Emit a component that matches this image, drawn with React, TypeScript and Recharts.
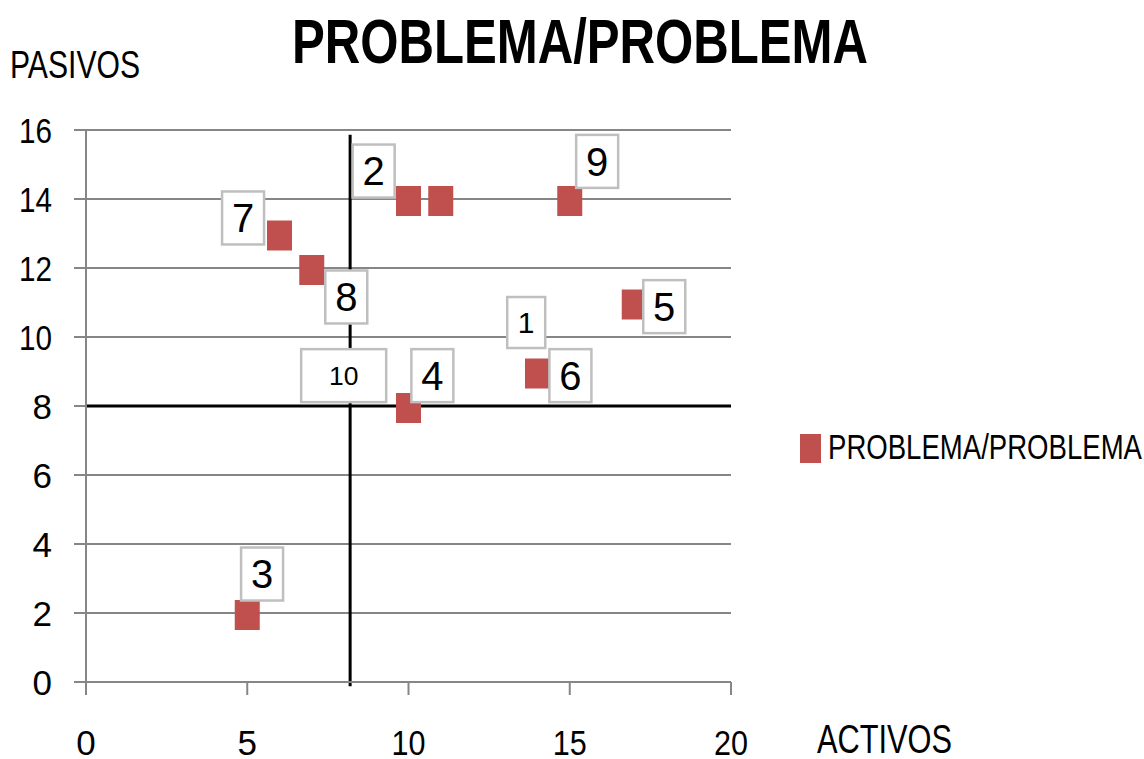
import React from "react";
import {
  ScatterChart,
  Scatter,
  XAxis,
  YAxis,
  CartesianGrid,
  ReferenceLine,
  Legend,
} from "recharts";

// ---- data ----
const pointIds = ["1", "2", "3", "4", "5", "6", "7", "8", "9", "10"];
const activos = [11, 10, 5, 10, 17, 14, 6, 7, 15, 8];
const pasivos = [14, 14, 2, 8, 11, 9, 13, 12, 14, 9];
// data-coordinate centres of the number boxes
const labelX = [13.65, 8.92, 5.46, 10.74, 17.93, 15.02, 4.87, 8.07, 15.85, 7.99];
const labelY = [10.42, 14.81, 3.13, 8.88, 10.88, 8.88, 13.45, 11.16, 15.09, 8.88];
const xTicks = [0, 5, 10, 15, 20];
const yTicks = [0, 2, 4, 6, 8, 10, 12, 14, 16];
const dividerX = 8.19;
const dividerY = 8;
const dividerTop = 15.86;
const dividerBottom = -0.12;

const chartTitle = "PROBLEMA/PROBLEMA";
const seriesName = "PROBLEMA/PROBLEMA";
const yTitle = "PASIVOS";
const xTitle = "ACTIVOS";

const points = pointIds.map((id, i) => ({ id, x: activos[i], y: pasivos[i] }));
const labels = pointIds.map((id, i) => ({ id, x: labelX[i], y: labelY[i] }));

const FONT = "'Liberation Sans', Arial, sans-serif";
const RED = "#C0504D";
const GRID = "#868686";
const SMALL = new Set(["1", "10"]);

const SquareShape = (props: any) => {
  const { cx, cy } = props;
  if (cx == null || cy == null) return null;
  return <rect x={cx - 12.5} y={cy - 13} width={25} height={30} fill={RED} />;
};

const LabelShape = (props: any) => {
  const { cx, cy, payload } = props;
  if (cx == null || cy == null) return null;
  const id: string = payload.id;
  const w = id.length > 1 ? 85 : SMALL.has(id) ? 38 : 42;
  const h = SMALL.has(id) && id.length === 1 ? 51 : 53;
  const fs = id === "10" ? 26.5 : id === "1" ? 30 : 40;
  return (
    <g>
      <rect
        x={cx - w / 2}
        y={cy - h / 2}
        width={w}
        height={h}
        fill="#ffffff"
        stroke="#BFBFBF"
        strokeWidth={2.5}
      />
      <text
        x={cx}
        y={cy + fs * 0.358}
        textAnchor="middle"
        fontFamily={FONT}
        fontSize={fs}
        fill="#000"
      >
        {id}
      </text>
    </g>
  );
};

const YTick = (props: any) => {
  const { x, y, payload } = props;
  const v = String(payload.value);
  return (
    <text
      x={x}
      y={y + 12.5}
      textAnchor="end"
      fontFamily={FONT}
      fontSize={35}
      fill="#000"
      {...(v.length > 1 ? { textLength: 33, lengthAdjust: "spacingAndGlyphs" } : {})}
    >
      {v}
    </text>
  );
};

const XTick = (props: any) => {
  const { x, y, payload } = props;
  const v = String(payload.value);
  return (
    <text
      x={x}
      y={y}
      textAnchor="middle"
      fontFamily={FONT}
      fontSize={35}
      fill="#000"
      {...(v.length > 1 ? { textLength: 34, lengthAdjust: "spacingAndGlyphs" } : {})}
    >
      {v}
    </text>
  );
};

const LegendContent = () => (
  <svg width={344} height={40} style={{ display: "block" }}>
    <rect x={0} y={4} width={21} height={29} fill={RED} />
    <text
      x={28}
      y={29}
      fontFamily={FONT}
      fontSize={35}
      fill="#000"
      textLength={314}
      lengthAdjust="spacingAndGlyphs"
    >
      {seriesName}
    </text>
  </svg>
);

export default function App() {
  return (
    <div
      style={{
        position: "absolute",
        left: 0,
        top: 0,
        width: 1144,
        height: 759,
        background: "#fff",
        overflow: "hidden",
      }}
    >
      <ScatterChart
        width={1144}
        height={759}
        margin={{ top: 130, right: 413, bottom: 0, left: 0 }}
      >
        <CartesianGrid vertical={false} stroke={GRID} strokeWidth={2} />
        <XAxis
          type="number"
          dataKey="x"
          domain={[0, 20]}
          ticks={xTicks}
          interval={0}
          height={77}
          tickSize={13}
          tickMargin={60}
          tick={<XTick />}
          axisLine={{ stroke: GRID, strokeWidth: 2 }}
          tickLine={{ stroke: GRID, strokeWidth: 2 }}
        />
        <YAxis
          type="number"
          dataKey="y"
          domain={[0, 16]}
          ticks={yTicks}
          interval={0}
          width={86}
          tickSize={12}
          tickMargin={22}
          tick={<YTick />}
          axisLine={{ stroke: GRID, strokeWidth: 2 }}
          tickLine={{ stroke: GRID, strokeWidth: 2 }}
        />
        <Legend
          layout="horizontal"
          verticalAlign="middle"
          align="center"
          wrapperStyle={{ position: "absolute", left: 800, top: 430, width: 344 }}
          content={<LegendContent />}
        />
        <Scatter
          name={seriesName}
          data={points}
          fill={RED}
          shape={<SquareShape />}
          isAnimationActive={false}
        />
        <Scatter
          name="labels"
          data={labels}
          fill="#fff"
          shape={<LabelShape />}
          legendType="none"
          isAnimationActive={false}
        />
        <ReferenceLine
          y={dividerY}
          stroke="#000"
          strokeWidth={3}
          ifOverflow="visible"
        />
        <ReferenceLine
          segment={[
            { x: dividerX, y: dividerTop },
            { x: dividerX, y: dividerBottom },
          ]}
          stroke="#000"
          strokeWidth={3}
          ifOverflow="visible"
        />
      </ScatterChart>
      <svg
        width={1144}
        height={759}
        style={{ position: "absolute", left: 0, top: 0, pointerEvents: "none" }}
      >
        <text
          x={292}
          y={63}
          fontFamily={FONT}
          fontWeight="bold"
          fontSize={63}
          fill="#000"
          textLength={576}
          lengthAdjust="spacingAndGlyphs"
        >
          {chartTitle}
        </text>
        <text
          x={10}
          y={78}
          fontFamily={FONT}
          fontSize={39}
          fill="#000"
          textLength={130}
          lengthAdjust="spacingAndGlyphs"
        >
          {yTitle}
        </text>
        <text
          x={817}
          y={753}
          fontFamily={FONT}
          fontSize={41}
          fill="#000"
          textLength={135}
          lengthAdjust="spacingAndGlyphs"
        >
          {xTitle}
        </text>
      </svg>
    </div>
  );
}
